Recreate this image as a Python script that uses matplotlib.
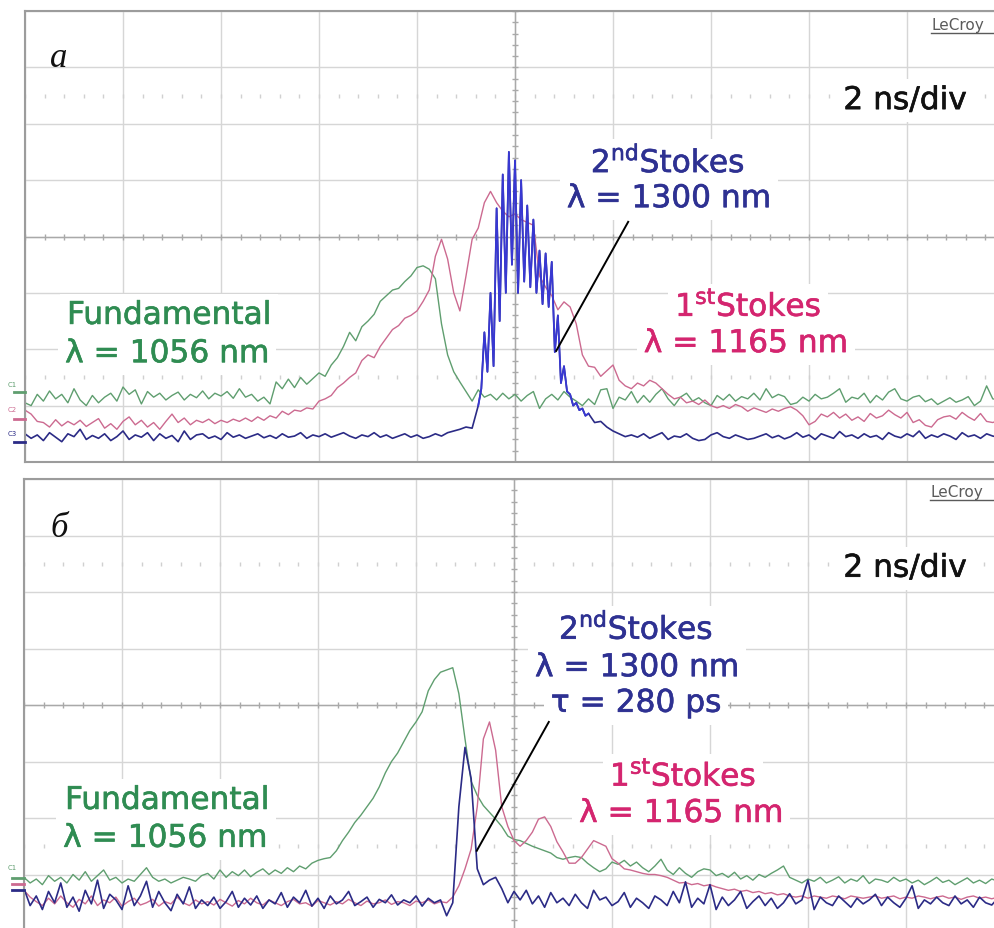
import numpy as np
import matplotlib
matplotlib.use("Agg")
import matplotlib.pyplot as plt
import matplotlib.patheffects as pe
from matplotlib.lines import Line2D

# ---------------------------------------------------------------------------
# Oscilloscope records, 2 ns/div, vertical values in screen divisions (0..8)
# ---------------------------------------------------------------------------
t_step = 0.125                       # ns between stored samples
t_grid = -10 + t_step * np.arange(161)
burst_step = 0.0625                  # finer record for the 2nd Stokes burst (a)
burst_t = -0.75 + burst_step * np.arange(37)

# panel a
green_a = [1.05, 1.0, 1.2, 1.08, 1.26, 1.12, 1.2, 1.05, 1.3, 1.1,
           1.0, 1.18, 1.05, 1.15, 1.22, 1.08, 1.33, 1.2, 1.28, 1.03,
           1.25, 1.15, 1.22, 1.1, 1.18, 1.24, 1.1, 1.2, 1.14, 1.26,
           1.12, 1.22, 1.17, 1.25, 1.13, 1.3, 1.15, 1.2, 1.08, 1.15,
           1.03, 1.42, 1.3, 1.47, 1.32, 1.5, 1.38, 1.48, 1.58, 1.52,
           1.72, 1.85, 2.05, 2.3, 2.15, 2.4, 2.5, 2.62, 2.85, 2.95,
           3.05, 3.08, 3.2, 3.3, 3.45, 3.48, 3.42, 3.25, 2.45, 1.9,
           1.6, 1.42, 1.25, 1.08, 1.28, 1.15, 1.2, 1.1, 1.22, 1.12,
           1.2, 1.08, 1.18, 1.25, 0.95, 1.12, 1.2, 1.1, 1.25, 1.15,
           1.08, 1.0, 1.12, 1.02, 1.28, 1.3, 0.95, 1.15, 1.1, 1.25,
           1.05, 1.18, 1.06, 1.2, 1.3, 1.12, 1.0, 1.15, 1.22, 1.08,
           1.14, 1.05, 1.0, 1.18, 1.1, 1.2, 1.08, 1.16, 1.12, 1.22,
           1.1, 1.3, 1.14, 1.2, 1.16, 1.02, 1.05, 1.15, 1.08, 1.2,
           1.12, 1.15, 1.22, 1.3, 1.06, 1.15, 1.12, 1.22, 1.05, 1.18,
           1.1, 1.24, 1.3, 1.12, 1.08, 1.15, 1.18, 1.07, 1.12, 1.02,
           1.08, 1.14, 1.06, 1.1, 1.16, 1.0, 1.08, 1.35, 1.12, 1.1, 1.15]

pink_a = [0.92, 0.85, 0.72, 0.7, 0.62, 0.75, 0.64, 0.72, 0.66, 0.74,
          0.63, 0.7, 0.77, 0.6, 0.68, 0.58, 0.72, 0.8, 0.66, 0.74,
          0.62, 0.7, 0.58, 0.72, 0.85, 0.7, 0.78, 0.66, 0.74, 0.7,
          0.76, 0.68, 0.74, 0.7, 0.76, 0.72, 0.78, 0.72, 0.8, 0.74,
          0.82, 0.78, 0.9, 0.84, 0.92, 0.9, 0.96, 0.94, 1.08, 1.12,
          1.18, 1.32, 1.4, 1.5, 1.58, 1.8, 1.9, 1.85, 2.05, 2.2,
          2.35, 2.42, 2.55, 2.6, 2.68, 2.85, 3.05, 3.65, 3.95, 3.6,
          3.0, 2.68, 3.3, 3.95, 4.15, 4.6, 4.8, 4.6, 4.45, 4.35,
          4.4, 4.3, 4.25, 4.2, 3.3, 3.1, 2.95, 2.7, 2.84, 2.75,
          2.45, 1.9, 1.7, 1.68, 1.52, 1.62, 1.72, 1.45, 1.35, 1.3,
          1.4, 1.35, 1.45, 1.4, 1.3, 1.2, 1.12, 1.15, 1.05, 1.08,
          1.02, 1.1, 1.0, 0.96, 1.0, 0.95, 1.02, 0.98, 0.9, 0.96,
          0.92, 0.88, 0.94, 0.9, 0.95, 0.98, 0.92, 0.82, 0.66, 0.72,
          0.85, 0.8, 0.88, 0.78, 0.85, 0.74, 0.8, 0.72, 0.86, 0.78,
          0.82, 0.92, 0.84, 0.78, 0.88, 0.7, 0.75, 0.65, 0.62, 0.75,
          0.8, 0.82, 0.76, 0.88, 0.8, 0.74, 0.86, 0.72, 0.7, 0.74, 0.72]

blue_a_pre = [0.5, 0.42, 0.48, 0.38, 0.52, 0.44, 0.36, 0.5, 0.45, 0.58,
              0.4, 0.47, 0.42, 0.5, 0.38, 0.45, 0.55, 0.4, 0.48, 0.44,
              0.52, 0.38, 0.5, 0.42, 0.47, 0.36, 0.55, 0.4, 0.48, 0.5,
              0.42, 0.46, 0.4, 0.52, 0.44, 0.48, 0.42, 0.46, 0.5, 0.43,
              0.47, 0.42, 0.5, 0.44, 0.46, 0.52, 0.42, 0.48, 0.45, 0.5,
              0.44, 0.48, 0.52, 0.46, 0.42, 0.48, 0.45, 0.52, 0.44, 0.48,
              0.42, 0.46, 0.5, 0.44, 0.48, 0.42, 0.45, 0.5, 0.46, 0.52,
              0.55, 0.58, 0.62, 0.6]
blue_a_burst = [1.0, 1.3, 2.3, 1.6, 3.0, 1.7, 4.5, 2.5, 5.1, 3.0,
                5.5, 3.5, 5.35, 3.0, 5.0, 3.2, 4.55, 3.1, 4.3, 3.0,
                3.75, 2.8, 3.7, 2.75, 3.55, 1.95, 2.6, 1.4, 1.7, 1.25,
                1.2, 1.0, 1.05, 0.92, 0.95, 0.82, 0.86]
blue_a_post = [0.7, 0.72, 0.62, 0.55, 0.5, 0.45, 0.48,
               0.44, 0.5, 0.42, 0.47, 0.52, 0.4, 0.46, 0.44, 0.5, 0.42,
               0.38, 0.4, 0.48, 0.52, 0.45, 0.42, 0.48, 0.44, 0.4, 0.42,
               0.46, 0.5, 0.43, 0.47, 0.41, 0.45, 0.52, 0.44, 0.48, 0.4,
               0.5, 0.46, 0.42, 0.54, 0.45, 0.48, 0.42, 0.5, 0.44, 0.47,
               0.4, 0.52, 0.46, 0.43, 0.5, 0.45, 0.55, 0.42, 0.48, 0.44,
               0.5, 0.46, 0.4, 0.52, 0.45, 0.48, 0.42, 0.5, 0.46, 0.44,
               0.48]

# panel b
green_b = [0.95, 0.85, 0.92, 0.82, 0.98, 0.88, 0.95, 0.85, 1.0, 0.9,
           1.05, 0.88, 0.98, 1.08, 0.9, 0.95, 0.85, 0.92, 0.88, 1.0,
           1.12, 0.95, 0.88, 0.92, 0.85, 0.9, 0.95, 0.92, 0.88, 0.98,
           1.02, 0.92, 1.08, 0.95, 1.05, 0.98, 1.08, 0.96, 1.04, 1.1,
           1.0, 1.08, 1.02, 1.12, 1.05, 1.15, 1.1, 1.2, 1.25, 1.28,
           1.3, 1.42, 1.6, 1.75, 1.92, 2.05, 2.2, 2.35, 2.55, 2.8,
           3.0, 3.15, 3.35, 3.55, 3.7, 3.88, 4.25, 4.45, 4.58, 4.62,
           4.66, 4.2, 3.4, 2.65, 2.4, 2.22, 2.1, 1.98, 1.85, 1.68,
           1.62, 1.6, 1.55, 1.5, 1.46, 1.42, 1.38, 1.3, 1.27, 1.3,
           1.32, 1.3, 1.2, 1.12, 1.05, 1.1, 1.22, 1.18, 1.25, 1.15,
           1.22, 1.12, 1.05, 1.15, 1.27, 1.08, 1.0, 1.12, 1.02, 0.95,
           1.05, 1.1, 1.08, 0.98, 1.02, 0.95, 1.04, 0.92, 0.98, 0.9,
           1.0, 0.95, 1.02, 1.08, 1.15, 0.95, 0.9, 0.85, 0.92, 0.88,
           0.95, 0.85, 0.9, 0.96, 0.85, 0.92, 0.88, 0.98, 0.84, 0.92,
           0.9, 0.86, 0.95, 0.88, 0.92, 0.85, 0.9, 0.82, 0.88, 0.95,
           0.86, 0.9, 0.82, 0.88, 0.94, 0.85, 0.9, 0.84, 0.92, 0.88, 0.9]

pink_b = [0.72, 0.6, 0.52, 0.45, 0.58, 0.48, 0.62, 0.5, 0.42, 0.56,
          0.48, 0.62, 0.45, 0.55, 0.5, 0.6, 0.44, 0.52, 0.58, 0.46,
          0.5, 0.56, 0.44, 0.52, 0.48, 0.6, 0.5, 0.45, 0.55, 0.48,
          0.52, 0.46, 0.56, 0.5, 0.44, 0.54, 0.48, 0.58, 0.5, 0.46,
          0.55, 0.5, 0.45, 0.52, 0.56, 0.48, 0.5, 0.44, 0.54, 0.5,
          0.46, 0.52, 0.48, 0.56, 0.5, 0.45, 0.53, 0.48, 0.5, 0.55,
          0.47, 0.52, 0.5, 0.45, 0.53, 0.5, 0.55, 0.48, 0.52, 0.5,
          0.6, 0.8, 1.1, 1.45, 2.2, 3.4, 3.7, 3.2, 2.2, 1.85,
          1.6, 1.5, 1.6, 1.75, 1.98, 2.02, 1.85, 1.58, 1.4, 1.2,
          1.2, 1.3, 1.45, 1.6, 1.55, 1.5, 1.28, 1.2, 1.1, 1.08,
          1.05, 1.02, 1.0, 1.0, 0.98, 0.95, 0.9, 0.85, 0.86, 0.82,
          0.84, 0.8, 0.82, 0.78, 0.75, 0.72, 0.74, 0.7, 0.72, 0.68,
          0.7, 0.66, 0.68, 0.64, 0.66, 0.62, 0.6, 0.62, 0.58, 0.62,
          0.6, 0.58, 0.62, 0.6, 0.57, 0.62, 0.6, 0.58, 0.6, 0.62,
          0.58, 0.6, 0.62, 0.57, 0.6, 0.58, 0.62, 0.6, 0.57, 0.6,
          0.62, 0.58, 0.6, 0.56, 0.6, 0.62, 0.58, 0.6, 0.57, 0.6, 0.58]

blue_b = [0.75, 0.45, 0.62, 0.38, 0.7, 0.5, 0.85, 0.42, 0.6, 0.35,
          0.72, 0.48, 0.9, 0.4, 0.65, 0.55, 0.38, 0.8, 0.45, 0.62,
          0.88, 0.42, 0.7, 0.5, 0.36, 0.65, 0.48, 0.78, 0.4, 0.55,
          0.45, 0.6, 0.4, 0.52, 0.7, 0.42, 0.58, 0.46, 0.62, 0.4,
          0.55, 0.48, 0.68, 0.42, 0.6, 0.5, 0.72, 0.44, 0.58, 0.4,
          0.62, 0.48, 0.55, 0.7, 0.45, 0.52, 0.6, 0.42, 0.56, 0.5,
          0.64, 0.46, 0.55, 0.5, 0.62, 0.44, 0.58, 0.5, 0.55, 0.27,
          0.5, 2.2, 3.25, 2.7, 1.1, 0.82, 0.9, 0.95, 0.75, 0.5,
          0.7, 0.55, 0.72, 0.48, 0.62, 0.42, 0.68, 0.5, 0.58, 0.45,
          0.65, 0.5, 0.4, 0.72, 0.55, 0.6, 0.45, 0.52, 0.68, 0.42,
          0.58, 0.5, 0.4, 0.62, 0.55, 0.45, 0.7, 0.5, 0.87, 0.42,
          0.58, 0.48, 0.82, 0.38, 0.6, 0.45, 0.55, 0.7, 0.4, 0.52,
          0.62, 0.45, 0.58, 0.4, 0.5, 0.66, 0.48, 0.55, 0.9, 0.38,
          0.6, 0.5, 0.45, 0.62, 0.52, 0.42, 0.58, 0.48, 0.55, 0.65,
          0.45, 0.6, 0.5, 0.42, 0.58, 0.8, 0.4, 0.55, 0.48, 0.6,
          0.5, 0.45, 0.62, 0.48, 0.55, 0.42, 0.6, 0.5, 0.46, 0.58, 0.52]

# ---------------------------------------------------------------------------
GREEN_LINE, PINK_LINE, BLUE_LINE, BURST_LINE = "#5f9e6f", "#cc6a90", "#2b2b86", "#3838d2"
GREEN_TXT, PINK_TXT, BLUE_TXT = "#2f8c52", "#d4256f", "#2e3192"
FS = 22.5

fig = plt.figure(figsize=(9.94, 9.29), dpi=100)
fig.patch.set_facecolor("white")
W, H = 994.0, 929.0
ax_a = fig.add_axes([25 / W, 1 - 463 / H, 980 / W, 451 / H])
ax_b = fig.add_axes([24 / W, 1 - 932 / H, 980 / W, 452 / H])


def scope_screen(ax):
    ax.set_xlim(-10, 10)
    ax.set_ylim(0, 8)
    ax.set_xticks(np.arange(-10, 11, 2))
    ax.set_yticks(np.arange(0, 9, 1))
    ax.tick_params(length=0, labelbottom=False, labelleft=False)
    ax.grid(True, color="#d6d6d6", lw=1.0)
    ax.set_axisbelow(True)
    for s in ax.spines.values():
        s.set_color("#9c9c9c")
        s.set_linewidth(1.5)
    ax.axhline(4, color="#a9a9a9", lw=1.0, zorder=1)
    ax.axvline(0, color="#a9a9a9", lw=1.0, zorder=1)
    xs = np.arange(-10, 10.01, 0.4)
    ys = np.arange(0, 8.01, 0.2)
    ax.plot(xs, np.full_like(xs, 4), ls="none", marker="|", ms=5, mew=1,
            color="#a9a9a9", zorder=1)
    ax.plot(np.zeros_like(ys), ys, ls="none", marker="_", ms=5, mew=1,
            color="#a9a9a9", zorder=1)
    for yd in (1.5, 6.5):
        ax.plot(xs, np.full_like(xs, yd), ls="none", marker="|", ms=2.5,
                mew=1, color="#d0d0d0", zorder=0.6)


scope_screen(ax_a)
scope_screen(ax_b)

# traces
ax_a.plot(t_grid, green_a, color=GREEN_LINE, lw=1.0, zorder=2)
ax_a.plot(t_grid, pink_a, color=PINK_LINE, lw=1.0, zorder=2.1)
blue_a_t = np.r_[t_grid[:74], burst_t, t_grid[93:]]
blue_a = np.r_[blue_a_pre, blue_a_burst, blue_a_post]
ax_a.plot(blue_a_t, blue_a, color=BLUE_LINE, lw=1.2, zorder=2.2)
ax_a.plot(burst_t, blue_a_burst, color=BURST_LINE, lw=1.3, zorder=2.3)

ax_b.plot(t_grid, green_b, color=GREEN_LINE, lw=1.0, zorder=2)
ax_b.plot(t_grid, pink_b, color=PINK_LINE, lw=1.0, zorder=2.1)
ax_b.plot(t_grid, blue_b, color=BLUE_LINE, lw=1.2, zorder=2.2)

box = dict(facecolor="white", edgecolor="none", pad=5)


def label(ax, x, y, s, color, size=FS):
    ax.text(x, y, s, color=color, fontsize=size, ha="center", va="baseline",
            family="DejaVu Sans", bbox=box, zorder=1.5,
            path_effects=[pe.withStroke(linewidth=0.45, foreground=color)])


# panel a annotations
label(ax_a, -7.06, 2.45, "Fundamental", GREEN_TXT)
label(ax_a, -7.10, 1.77, "λ = 1056 nm", GREEN_TXT)
label(ax_a, 3.12, 5.14, r"2$^{\mathregular{nd}}$Stokes", BLUE_TXT)
label(ax_a, 3.14, 4.52, "λ = 1300 nm", BLUE_TXT)
label(ax_a, 4.76, 2.59, r"1$^{\mathregular{st}}$Stokes", PINK_TXT)
label(ax_a, 4.71, 1.95, "λ = 1165 nm", PINK_TXT)
label(ax_a, 7.96, 6.26, "2 ns/div", "#111111")
ax_a.plot([2.31, 0.84], [4.26, 1.97], color="black", lw=1.4, zorder=4)
ax_a.text(-9.49, 7.02, "а", fontsize=25, style="italic", family="Liberation Serif",
          color="#111111", ha="left", va="baseline")

# panel b annotations
label(ax_b, -7.08, 2.16, "Fundamental", GREEN_TXT)
label(ax_b, -7.12, 1.49, "λ = 1056 nm", GREEN_TXT)
label(ax_b, 2.49, 5.17, r"2$^{\mathregular{nd}}$Stokes", BLUE_TXT)
label(ax_b, 2.51, 4.51, "λ = 1300 nm", BLUE_TXT)
label(ax_b, 2.49, 3.88, "τ = 280 ps", BLUE_TXT)
label(ax_b, 3.45, 2.57, r"1$^{\mathregular{st}}$Stokes", PINK_TXT)
label(ax_b, 3.41, 1.93, "λ = 1165 nm", PINK_TXT)
label(ax_b, 7.98, 6.27, "2 ns/div", "#111111")
ax_b.plot([0.71, -0.76], [3.70, 1.42], color="black", lw=1.4, zorder=4)
ax_b.text(-9.47, 6.99, "б", fontsize=25, style="italic", family="Liberation Serif",
          color="#111111", ha="left", va="baseline")

# instrument mark with underline
for ax, yb, yu in ((ax_a, 0.960, 0.951), (ax_b, 0.962, 0.953)):
    ax.text(0.9245, yb, "LeCroy", transform=ax.transAxes, fontsize=11,
            color="#5a5a5a", ha="left", va="baseline", zorder=5)
    ax.plot([0.9245, 1.0], [yu, yu], transform=ax.transAxes, color="#5a5a5a",
            lw=1.0, zorder=5, clip_on=False)

# channel markers at the left edge of each screen
def fig_line(x0, x1, y, color, lw=2.0):
    fig.add_artist(Line2D([x0 / W, x1 / W], [1 - y / H, 1 - y / H],
                          color=color, lw=lw, transform=fig.transFigure))


for txt, y, col in (("C1", 385, GREEN_LINE), ("C2", 410, PINK_LINE), ("C3", 434, BLUE_LINE)):
    fig.text(8 / W, 1 - y / H, txt, fontsize=5, color=col, va="center", ha="left")
fig_line(14, 25, 393, GREEN_LINE)
fig_line(14, 25, 420, PINK_LINE)
fig_line(14, 25, 443, BLUE_LINE)

fig.text(8 / W, 1 - 868 / H, "C1", fontsize=5, color=GREEN_LINE, va="center", ha="left")
fig_line(12, 24, 879, GREEN_LINE)
fig_line(12, 24, 885, PINK_LINE)
fig_line(12, 24, 891, BLUE_LINE)

fig.savefig("out.png", dpi=100, facecolor="white")
